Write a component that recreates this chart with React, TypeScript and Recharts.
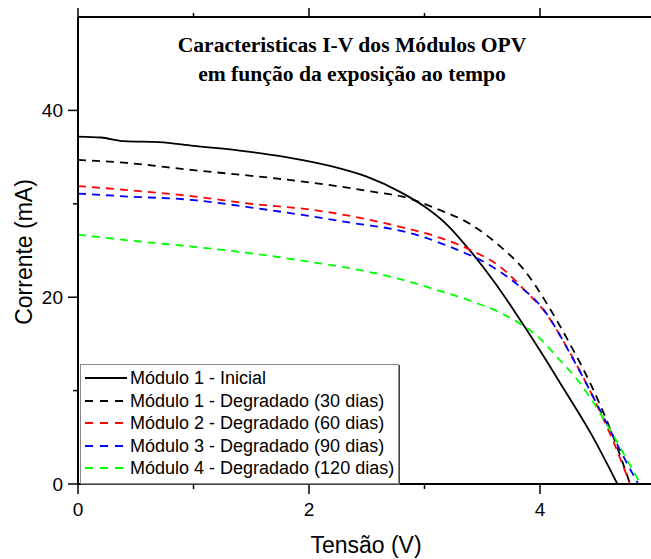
import React from 'react';
import { LineChart, Line, XAxis, YAxis, Legend } from 'recharts';

// curvas I-V (tensão em V, corrente em mA)
const vInicial = [0, 0.2, 0.4, 0.7, 1.0, 1.4, 1.8, 2.2, 2.5, 2.8, 3.0, 3.2, 3.4, 3.6, 3.8, 4.0, 4.2, 4.45, 4.67];
const iInicial = [37.2, 37.1, 36.7, 36.6, 36.2, 35.7, 35.0, 34.0, 32.9, 31.2, 29.7, 27.7, 24.9, 21.7, 18.1, 14.3, 10.3, 5.2, 0];

const v30 = [0, 0.4, 1.0, 1.5, 2.0, 2.4, 2.6, 2.8, 3.1, 3.4, 3.65, 3.87, 4.05, 4.25, 4.45, 4.63, 4.78];
const i30 = [34.7, 34.4, 33.6, 33.0, 32.3, 31.6, 31.2, 30.8, 29.5, 27.8, 25.5, 22.8, 19.5, 15.2, 10.4, 5.2, 0];

const v60 = [0, 0.4, 1.0, 1.5, 2.0, 2.4, 2.8, 3.1, 3.39, 3.65, 3.88, 4.05, 4.23, 4.46, 4.63, 4.78];
const i60 = [31.9, 31.5, 30.8, 30.0, 29.4, 28.6, 27.5, 26.5, 25.1, 23.3, 20.6, 18.3, 14.7, 9.3, 4.7, 0];

const v90 = [0, 0.4, 1.0, 1.5, 2.0, 2.4, 2.8, 3.0, 3.26, 3.54, 3.8, 4.03, 4.29, 4.52, 4.72, 4.85];
const i90 = [31.1, 30.8, 30.4, 29.6, 28.7, 27.9, 27.1, 26.4, 25.2, 23.6, 21.4, 18.7, 13.3, 7.9, 3.0, 0];

const v120 = [0, 0.5, 1.0, 1.5, 2.0, 2.4, 2.8, 3.1, 3.4, 3.71, 3.97, 4.17, 4.34, 4.52, 4.69, 4.87];
const i120 = [26.7, 26.0, 25.4, 24.7, 23.8, 23.0, 21.9, 20.8, 19.6, 18.0, 15.9, 13.3, 10.9, 7.6, 4.0, 0];

const seriesNames = [
  'Módulo 1 - Inicial',
  'Módulo 1 - Degradado (30 dias)',
  'Módulo 2 - Degradado (60 dias)',
  'Módulo 3 - Degradado (90 dias)',
  'Módulo 4 - Degradado (120 dias)',
];
const seriesColors = ['#000000', '#000000', '#ff0000', '#0000ff', '#00ff00'];
const seriesDashes = [undefined, '8 6', '8 6', '8 6', '8 6'];
const voltages = [vInicial, v30, v60, v90, v120];
const currents = [iInicial, i30, i60, i90, i120];

const xTicks = [0, 1, 2, 3, 4];
const yTicks = [0, 10, 20, 30, 40];

const titleLines = ['Caracteristicas I-V dos Módulos OPV', 'em função da exposição ao tempo'];

const sans = '"Liberation Sans", Arial, sans-serif';

const series = seriesNames.map((name, k) => ({
  name,
  color: seriesColors[k],
  dash: seriesDashes[k],
  data: voltages[k].map((v, j) => ({ v, i: currents[k][j] })),
}));

const BottomTick = (props: any) => {
  const { x, y, payload } = props;
  const major = payload.value % 2 === 0;
  return (
    <g>
      <line x1={x} x2={x} y1={y} y2={y + (major ? 10 : 5)} stroke="#000" strokeWidth={1.5} />
      {major && (
        <text x={x} y={y + 32} textAnchor="middle" fontSize={19} fontFamily={sans} fill="#000">
          {payload.value}
        </text>
      )}
    </g>
  );
};

const TopTick = (props: any) => {
  const { x, y, payload } = props;
  const major = payload.value % 2 === 0;
  return <line x1={x} x2={x} y1={y} y2={y - (major ? 9 : 4)} stroke="#000" strokeWidth={1.5} />;
};

const LeftTick = (props: any) => {
  const { x, y, payload } = props;
  const major = payload.value % 20 === 0;
  return (
    <g>
      <line x1={x - (major ? 10 : 5)} x2={x} y1={y} y2={y} stroke="#000" strokeWidth={1.5} />
      {major && (
        <text x={x - 15} y={y + 7} textAnchor="end" fontSize={19} fontFamily={sans} fill="#000">
          {payload.value}
        </text>
      )}
    </g>
  );
};

const XLabel = () => (
  <text x={366} y={553} textAnchor="middle" fontSize={23} fontFamily={sans} fill="#000">
    Tensão (V)
  </text>
);

const YLabel = () => (
  <text transform="translate(32 252) rotate(-90)" textAnchor="middle" fontSize={23} fontFamily={sans} fill="#000">
    Corrente (mA)
  </text>
);

const renderLegend = () => (
  <div
    style={{
      background: '#fff',
      border: '1px solid #888',
      boxShadow: '1px 1px 0 #444',
      padding: '2px 4px 3px 2px',
      fontFamily: sans,
      fontSize: 18,
      lineHeight: '22.5px',
      color: '#000',
    }}
  >
    {series.map((s) => (
      <div key={s.name} style={{ display: 'flex', alignItems: 'center', whiteSpace: 'nowrap' }}>
        <svg width={44} height={10} style={{ marginRight: 3 }}>
          <line x1={2} x2={44} y1={5} y2={5} stroke={s.color} strokeWidth={1.8} strokeDasharray={s.dash ? '8 7' : undefined} />
        </svg>
        <span>{s.name}</span>
      </div>
    ))}
  </div>
);

export default function App() {
  return (
    <div style={{ position: 'absolute', left: 0, top: 0, width: 651, height: 559, overflow: 'hidden', background: '#fff' }}>
      <style>{'html, body { margin: 0; overflow: hidden; }'}</style>
      <LineChart width={660} height={559} margin={{ top: 7, right: 4.5, bottom: 0, left: 0 }}>
        <XAxis
          xAxisId="bottom"
          dataKey="v"
          type="number"
          domain={[0, 5]}
          ticks={xTicks}
          height={75}
          tickSize={0}
          tickMargin={0}
          tickLine={false}
          axisLine={{ stroke: '#000', strokeWidth: 2 }}
          tick={(p: any) => <BottomTick {...p} />}
          interval={0}
          allowDataOverflow
          label={{ content: () => <XLabel /> }}
        />
        <XAxis
          xAxisId="top"
          orientation="top"
          dataKey="v"
          type="number"
          domain={[0, 5]}
          ticks={xTicks}
          height={10}
          tickSize={0}
          tickMargin={0}
          tickLine={false}
          axisLine={{ stroke: '#000', strokeWidth: 2 }}
          tick={(p: any) => <TopTick {...p} />}
          interval={0}
          allowDataOverflow
        />
        <YAxis
          dataKey="i"
          type="number"
          domain={[0, 50]}
          ticks={yTicks}
          width={78}
          tickSize={0}
          tickMargin={0}
          tickLine={false}
          axisLine={{ stroke: '#000', strokeWidth: 2 }}
          tick={(p: any) => <LeftTick {...p} />}
          interval={0}
          allowDataOverflow
          label={{ content: () => <YLabel /> }}
        />
        {series.map((s) => (
          <Line
            key={s.name}
            xAxisId="bottom"
            data={s.data}
            dataKey="i"
            name={s.name}
            type="monotone"
            stroke={s.color}
            strokeWidth={1.8}
            strokeDasharray={s.dash}
            dot={false}
            activeDot={false}
            isAnimationActive={false}
          />
        ))}
        <Legend
          layout="vertical"
          align="center"
          verticalAlign="middle"
          content={renderLegend}
          wrapperStyle={{ left: 80, top: 364, width: 'auto' }}
        />
      </LineChart>
      <div
        style={{
          position: 'absolute',
          left: 352,
          top: 31,
          transform: 'translateX(-50%)',
          whiteSpace: 'nowrap',
          textAlign: 'center',
          fontFamily: '"Liberation Serif", "Times New Roman", serif',
          fontWeight: 'bold',
          fontSize: 21.6,
          lineHeight: '29px',
          color: '#000',
        }}
      >
        {titleLines.map((t) => (
          <div key={t}>{t}</div>
        ))}
      </div>
    </div>
  );
}
